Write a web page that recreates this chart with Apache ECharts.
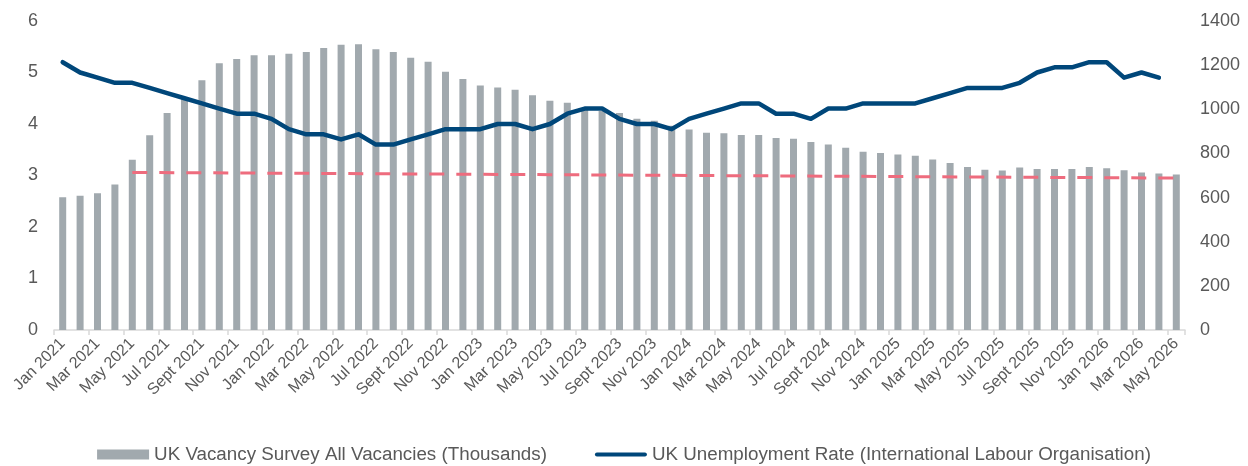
<!DOCTYPE html>
<html>
<head>
<meta charset="utf-8">
<title>UK vacancies and unemployment</title>
<script src="https://cdn.jsdelivr.net/npm/echarts@6/dist/echarts.min.js"></script>
<style>
  html, body { margin: 0; padding: 0; background: #ffffff; }
  #chart { width: 1248px; height: 466px; }
</style>
</head>
<body>
<div id="chart"></div>
<script>
// Monthly categories, Jan 2021 to May 2026
const months = [
  'Jan 2021','Feb 2021','Mar 2021','Apr 2021','May 2021','Jun 2021','Jul 2021','Aug 2021','Sept 2021','Oct 2021','Nov 2021','Dec 2021',
  'Jan 2022','Feb 2022','Mar 2022','Apr 2022','May 2022','Jun 2022','Jul 2022','Aug 2022','Sept 2022','Oct 2022','Nov 2022','Dec 2022',
  'Jan 2023','Feb 2023','Mar 2023','Apr 2023','May 2023','Jun 2023','Jul 2023','Aug 2023','Sept 2023','Oct 2023','Nov 2023','Dec 2023',
  'Jan 2024','Feb 2024','Mar 2024','Apr 2024','May 2024','Jun 2024','Jul 2024','Aug 2024','Sept 2024','Oct 2024','Nov 2024','Dec 2024',
  'Jan 2025','Feb 2025','Mar 2025','Apr 2025','May 2025','Jun 2025','Jul 2025','Aug 2025','Sept 2025','Oct 2025','Nov 2025','Dec 2025',
  'Jan 2026','Feb 2026','Mar 2026','Apr 2026','May 2026'
];

// UK Vacancy Survey, all vacancies (thousands) - right axis
const vacancies = [
  602, 608, 620, 659, 771, 882, 983, 1055, 1132, 1209, 1228, 1245,
  1245, 1252, 1260, 1278, 1292, 1295, 1272, 1259, 1234, 1215, 1170, 1137,
  1108, 1099, 1088, 1064, 1039, 1030, 1000, 992, 983, 957, 948, 925,
  908, 894, 891, 884, 884, 870, 866, 852, 840, 826, 808, 802,
  795, 790, 772, 757, 738, 726, 723, 736, 729, 729, 729, 739,
  733, 724, 714, 709, 705
];

// UK unemployment rate, ILO measure (%) - left axis
const unemployment = [
  5.2, 5.0, 4.9, 4.8, 4.8, 4.7, 4.6, 4.5, 4.4, 4.3, 4.2, 4.2,
  4.1, 3.9, 3.8, 3.8, 3.7, 3.8, 3.6, 3.6, 3.7, 3.8, 3.9, 3.9,
  3.9, 4.0, 4.0, 3.9, 4.0, 4.2, 4.3, 4.3, 4.1, 4.0, 4.0, 3.9,
  4.1, 4.2, 4.3, 4.4, 4.4, 4.2, 4.2, 4.1, 4.3, 4.3, 4.4, 4.4,
  4.4, 4.4, 4.5, 4.6, 4.7, 4.7, 4.7, 4.8, 5.0, 5.1, 5.1, 5.2,
  5.2, 4.9, 5.0, 4.9, null
];

// Straight dashed reference line: start (May 2021) and end (May 2026) levels
const trendStart = { month: 'May 2021', value: 3.06 };
const trendEnd = { month: 'May 2026', value: 2.95 };
const trend = months.map(m => m === trendStart.month ? trendStart.value : (m === trendEnd.month ? trendEnd.value : null));

// Axis tick ranges
const leftTicks = { min: 0, max: 6, step: 1 };
const rightTicks = { min: 0, max: 1400, step: 200 };

const TEXT = '#595959';
const FONT = '"Liberation Sans", Arial, sans-serif';
const NAVY = '#00477a';

const chart = echarts.init(document.getElementById('chart'), null, { renderer: 'canvas' });
chart.setOption({
  animation: false,
  backgroundColor: '#ffffff',
  textStyle: { fontFamily: FONT, color: TEXT },
  grid: { left: 54, right: 63, top: 21, bottom: 136, containLabel: false },
  legend: {
    data: [
      { name: 'UK Vacancy Survey All Vacancies (Thousands)', icon: 'rect' },
      {
        name: 'UK Unemployment Rate (International Labour Organisation)',
        icon: 'path://M2,0 L50,0 A2,2 0 0 1 50,4 L2,4 A2,2 0 0 1 2,0 Z',
        itemStyle: { color: NAVY }
      }
    ],
    left: 'center',
    top: 440,
    itemWidth: 52,
    itemHeight: 10,
    itemGap: 48,
    textStyle: { fontFamily: FONT, fontSize: 18.8, color: TEXT }
  },
  xAxis: {
    type: 'category',
    data: months,
    boundaryGap: true,
    axisLine: { show: true, lineStyle: { color: '#d9d9d9', width: 1.5 } },
    axisTick: { show: true, interval: 1, length: 5, lineStyle: { color: '#d9d9d9', width: 1.5 } },
    axisLabel: {
      interval: 1,
      rotate: 45,
      margin: 11,
      fontFamily: FONT,
      fontSize: 16,
      color: TEXT
    },
    splitLine: { show: false }
  },
  yAxis: [
    {
      type: 'value',
      position: 'left',
      min: leftTicks.min, max: leftTicks.max, interval: leftTicks.step,
      axisLine: { show: false },
      axisTick: { show: false },
      splitLine: { show: false },
      axisLabel: { margin: 16, fontFamily: FONT, fontSize: 18, color: TEXT }
    },
    {
      type: 'value',
      position: 'right',
      min: rightTicks.min, max: rightTicks.max, interval: rightTicks.step,
      axisLine: { show: false },
      axisTick: { show: false },
      splitLine: { show: false },
      axisLabel: { margin: 15, fontFamily: FONT, fontSize: 18, color: TEXT, formatter: v => String(v) }
    }
  ],
  series: [
    {
      name: 'UK Vacancy Survey All Vacancies (Thousands)',
      type: 'bar',
      yAxisIndex: 1,
      data: vacancies,
      barWidth: 7,
      itemStyle: { color: '#a1a9ae' },
      z: 1
    },
    {
      name: 'Trend',
      type: 'line',
      yAxisIndex: 0,
      data: trend,
      connectNulls: true,
      symbol: 'none',
      lineStyle: { color: '#ee6c7e', width: 3, type: [15, 12] },
      z: 2
    },
    {
      name: 'UK Unemployment Rate (International Labour Organisation)',
      type: 'line',
      yAxisIndex: 0,
      data: unemployment,
      symbol: 'none',
      lineStyle: { color: NAVY, width: 4.5, cap: 'round', join: 'round' },
      itemStyle: { color: NAVY },
      z: 3
    }
  ]
});
</script>
</body>
</html>
